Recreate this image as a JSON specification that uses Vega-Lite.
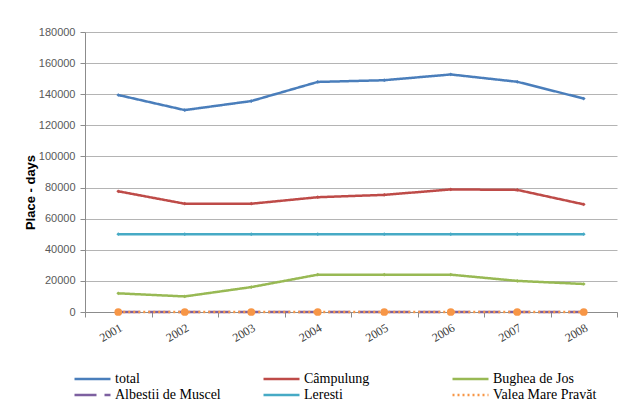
{
  "$schema": "https://vega.github.io/schema/vega-lite/v6.json",
  "autosize": "none",
  "width": 532,
  "height": 280,
  "padding": {"left": 85, "top": 32, "right": 5, "bottom": 89},
  "background": "white",
  "config": {
    "view": {"stroke": null},
    "axis": {"labelFont": "Liberation Sans", "labelColor": "#595959", "labelFontSize": 11, "domainColor": "#8c8c8c", "tickColor": "#8c8c8c", "gridColor": "#b4b4b4"}
  },
  "data": {
    "values": [
      {"year": "2001", "series": "total", "value": 139500},
      {"year": "2002", "series": "total", "value": 129800},
      {"year": "2003", "series": "total", "value": 135600},
      {"year": "2004", "series": "total", "value": 147900},
      {"year": "2005", "series": "total", "value": 149000},
      {"year": "2006", "series": "total", "value": 152700},
      {"year": "2007", "series": "total", "value": 148000},
      {"year": "2008", "series": "total", "value": 137200},
      {"year": "2001", "series": "Câmpulung", "value": 77600},
      {"year": "2002", "series": "Câmpulung", "value": 69600},
      {"year": "2003", "series": "Câmpulung", "value": 69600},
      {"year": "2004", "series": "Câmpulung", "value": 73800},
      {"year": "2005", "series": "Câmpulung", "value": 75300},
      {"year": "2006", "series": "Câmpulung", "value": 78800},
      {"year": "2007", "series": "Câmpulung", "value": 78500},
      {"year": "2008", "series": "Câmpulung", "value": 69200},
      {"year": "2001", "series": "Bughea de Jos", "value": 12000},
      {"year": "2002", "series": "Bughea de Jos", "value": 10000},
      {"year": "2003", "series": "Bughea de Jos", "value": 16000},
      {"year": "2004", "series": "Bughea de Jos", "value": 24000},
      {"year": "2005", "series": "Bughea de Jos", "value": 24000},
      {"year": "2006", "series": "Bughea de Jos", "value": 24000},
      {"year": "2007", "series": "Bughea de Jos", "value": 20000},
      {"year": "2008", "series": "Bughea de Jos", "value": 18000},
      {"year": "2001", "series": "Albestii de Muscel", "value": 0},
      {"year": "2002", "series": "Albestii de Muscel", "value": 0},
      {"year": "2003", "series": "Albestii de Muscel", "value": 0},
      {"year": "2004", "series": "Albestii de Muscel", "value": 0},
      {"year": "2005", "series": "Albestii de Muscel", "value": 0},
      {"year": "2006", "series": "Albestii de Muscel", "value": 0},
      {"year": "2007", "series": "Albestii de Muscel", "value": 0},
      {"year": "2008", "series": "Albestii de Muscel", "value": 0},
      {"year": "2001", "series": "Leresti", "value": 50000},
      {"year": "2002", "series": "Leresti", "value": 50000},
      {"year": "2003", "series": "Leresti", "value": 50000},
      {"year": "2004", "series": "Leresti", "value": 50000},
      {"year": "2005", "series": "Leresti", "value": 50000},
      {"year": "2006", "series": "Leresti", "value": 50000},
      {"year": "2007", "series": "Leresti", "value": 50000},
      {"year": "2008", "series": "Leresti", "value": 50000},
      {"year": "2001", "series": "Valea Mare Pravăt", "value": 0},
      {"year": "2002", "series": "Valea Mare Pravăt", "value": 0},
      {"year": "2003", "series": "Valea Mare Pravăt", "value": 0},
      {"year": "2004", "series": "Valea Mare Pravăt", "value": 0},
      {"year": "2005", "series": "Valea Mare Pravăt", "value": 0},
      {"year": "2006", "series": "Valea Mare Pravăt", "value": 0},
      {"year": "2007", "series": "Valea Mare Pravăt", "value": 0},
      {"year": "2008", "series": "Valea Mare Pravăt", "value": 0}
    ]
  },
  "encoding": {
    "x": {
      "field": "year", "type": "ordinal",
      "scale": {"type": "band", "paddingInner": 0, "paddingOuter": 0},
      "axis": {"title": null, "labelAngle": -30, "labelFont": "Liberation Serif", "labelFontSize": 12, "labelColor": "#404040", "tickBand": "extent", "tickSize": 5, "grid": false, "labelPadding": 5}
    },
    "y": {
      "field": "value", "type": "quantitative",
      "scale": {"domain": [0, 180000], "nice": false},
      "axis": {"title": "Place - days", "titleFont": "Liberation Sans", "titleFontSize": 13, "titleFontWeight": "bold", "titleColor": "#000000", "values": [0, 20000, 40000, 60000, 80000, 100000, 120000, 140000, 160000, 180000], "format": "d", "tickSize": 5, "labelPadding": 5, "titleX": -48, "titleY": 160, "titleAngle": -90}
    },
    "color": {
      "field": "series", "type": "nominal",
      "scale": {
        "domain": ["total", "Câmpulung", "Bughea de Jos", "Albestii de Muscel", "Leresti", "Valea Mare Pravăt"],
        "range": ["#4A7EBB", "#BE4B48", "#98B954", "#7D60A0", "#46AAC5", "#F79646"]
      },
      "legend": {
        "title": null, "orient": "none", "legendX": -12, "legendY": 339, "columns": 3, "direction": "horizontal",
        "symbolType": "stroke", "symbolSize": 1296, "symbolStrokeWidth": 3, "clipHeight": 16,
        "labelFont": "Liberation Serif", "labelFontSize": 14, "labelColor": "#000000", "labelOffset": 3,
        "gridAlign": "all", "columnPadding": 41, "rowPadding": 0, "labelLimit": 200
      }
    },
    "strokeDash": {
      "field": "series", "type": "nominal",
      "scale": {
        "domain": ["total", "Câmpulung", "Bughea de Jos", "Albestii de Muscel", "Leresti", "Valea Mare Pravăt"],
        "range": [[1, 0], [1, 0], [1, 0], [22, 8], [1, 0], [2, 3]]
      },
      "legend": null
    },
    "strokeWidth": {
      "field": "series", "type": "nominal",
      "scale": {
        "domain": ["total", "Câmpulung", "Bughea de Jos", "Albestii de Muscel", "Leresti", "Valea Mare Pravăt"],
        "range": [2.5, 2.5, 2.5, 4.5, 2.5, 2]
      },
      "legend": null
    }
  },
  "layer": [
    {"mark": {"type": "line"}},
    {
      "transform": [{"filter": "datum.series != 'Valea Mare Pravăt' && datum.series != 'Albestii de Muscel'"}],
      "mark": {"type": "point", "filled": true, "size": 14, "opacity": 1, "shape": "diamond"},
      "encoding": {"strokeDash": {"value": [1, 0]}, "strokeWidth": {"value": 0}}
    },
    {
      "transform": [{"filter": "datum.series == 'Valea Mare Pravăt'"}],
      "mark": {"type": "point", "filled": true, "size": 60, "opacity": 1},
      "encoding": {"strokeDash": {"value": [1, 0]}, "strokeWidth": {"value": 0}}
    }
  ]
}
